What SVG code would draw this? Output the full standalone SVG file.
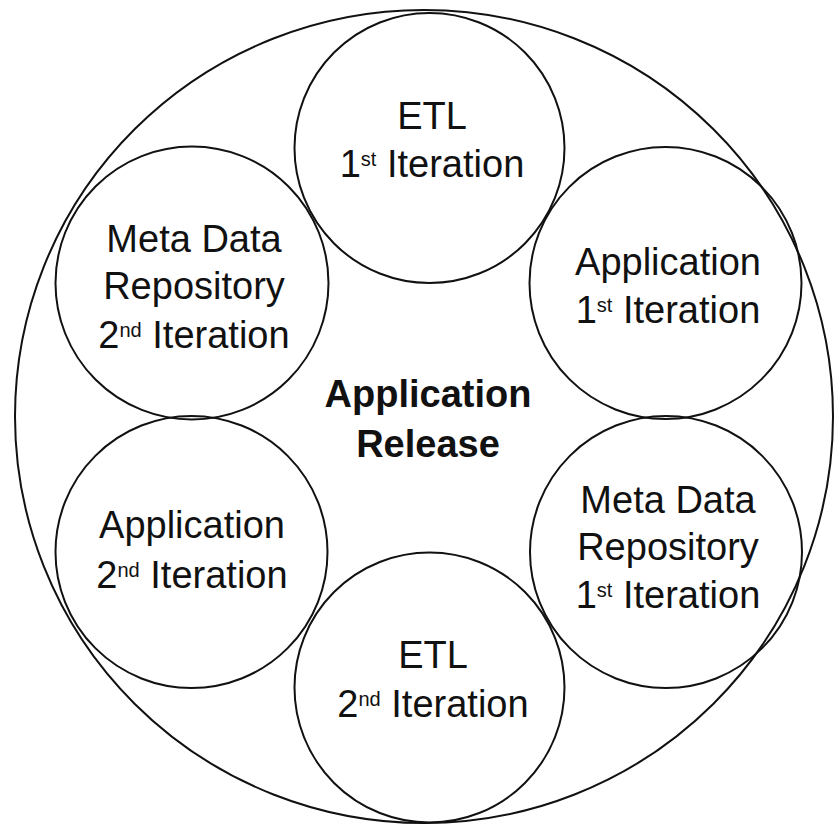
<svg xmlns="http://www.w3.org/2000/svg" width="835" height="827" viewBox="0 0 835 827">
<style>
.c{fill:none;stroke:#111;stroke-width:2}
.t{font-family:"Liberation Sans",Arial,sans-serif;font-size:38px;fill:#111;text-anchor:middle}
.b{font-weight:bold}
.s{font-size:20px}
</style>
<rect width="835" height="827" fill="#fff"/>
<g id="release">
<ellipse class="c" cx="424" cy="416.5" rx="409" ry="406.5"/>
<text class="t b" x="428" y="407">Application</text>
<text class="t b" x="428" y="457">Release</text>
</g>
<g id="etl1">
<circle class="c" cx="429.5" cy="148" r="135"/>
<text class="t" x="432" y="129">ETL</text>
<text class="t" x="432" y="177">1<tspan class="s" dy="-11">st</tspan><tspan dy="11"> Iteration</tspan></text>
</g>
<g id="app1">
<circle class="c" cx="665.5" cy="283" r="136"/>
<text class="t" x="668" y="275">Application</text>
<text class="t" x="668" y="323">1<tspan class="s" dy="-11">st</tspan><tspan dy="11"> Iteration</tspan></text>
</g>
<g id="meta1">
<circle class="c" cx="666" cy="552" r="136"/>
<text class="t" x="668" y="513">Meta Data</text>
<text class="t" x="668" y="560">Repository</text>
<text class="t" x="668" y="608">1<tspan class="s" dy="-11">st</tspan><tspan dy="11"> Iteration</tspan></text>
</g>
<g id="etl2">
<circle class="c" cx="429.5" cy="687.5" r="135"/>
<text class="t" x="433" y="668">ETL</text>
<text class="t" x="433" y="717">2<tspan class="s" dy="-11">nd</tspan><tspan dy="11"> Iteration</tspan></text>
</g>
<g id="app2">
<circle class="c" cx="191.5" cy="552" r="136"/>
<text class="t" x="192" y="538">Application</text>
<text class="t" x="192" y="588">2<tspan class="s" dy="-11">nd</tspan><tspan dy="11"> Iteration</tspan></text>
</g>
<g id="meta2">
<circle class="c" cx="192" cy="283" r="136.5"/>
<text class="t" x="194" y="252">Meta Data</text>
<text class="t" x="194" y="299">Repository</text>
<text class="t" x="194" y="348">2<tspan class="s" dy="-11">nd</tspan><tspan dy="11"> Iteration</tspan></text>
</g>
<g id="connectors"></g>
</svg>
